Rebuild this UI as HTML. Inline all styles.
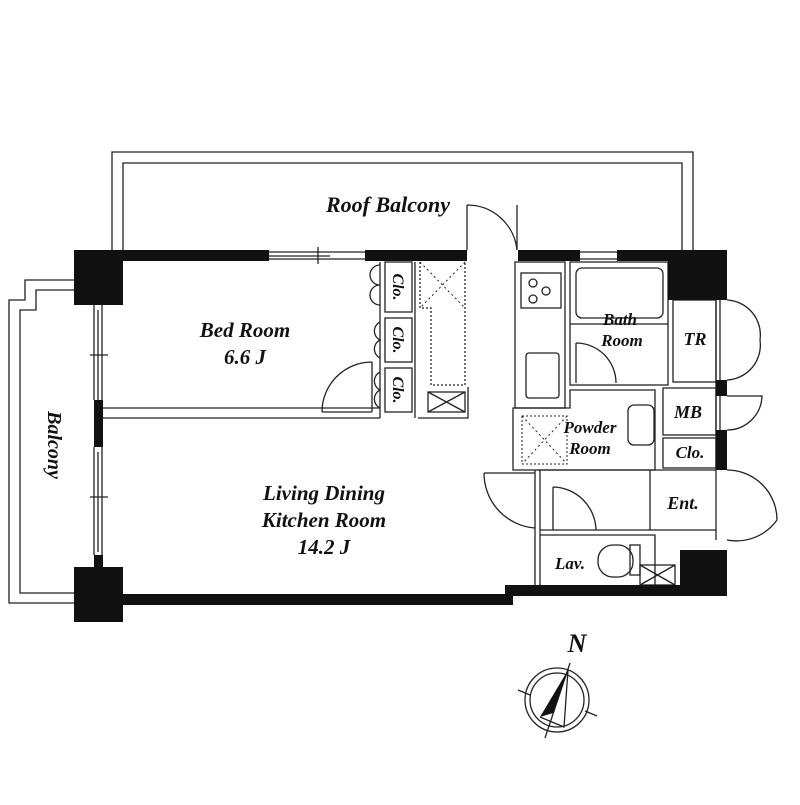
<!DOCTYPE html>
<html><head><meta charset="utf-8"><style>
html,body{margin:0;padding:0;background:#fff;}
svg text{font-family:"Liberation Serif",serif;font-style:italic;font-weight:bold;fill:#111;}
</style></head><body>
<svg width="800" height="800" viewBox="0 0 800 800" xmlns="http://www.w3.org/2000/svg">
<g fill="none" stroke="#222" stroke-width="1.3">
<path d="M112 250 V152 H693 V250"/>
<path d="M123 250 V163 H682 V250"/>
<path d="M74 280 H25 V300 H9 V603 H74"/>
<path d="M74 290 H36 V310 H20 V593 H74"/>
<path d="M94 305 V400 M102 305 V400 M94 447 V555 M102 447 V555 M98 310 V400 M98 452 V552"/>
<path d="M90 355 H108 M90 497 H108"/>
<path d="M269 252 H365 M269 259 H365 M269 256 H330 M318 247 V264"/>
<path d="M580 252 H617 M580 259 H617"/>
<path d="M467 250 V205 M467 205 A50 50 0 0 1 517 250 M517 205 V250"/>
<path d="M103 408 H380 M103 418 H380"/>
<path d="M322 412 A50 50 0 0 1 372 362 M372 362 V412 M322 412 H372"/>
<rect x="385" y="262" width="27" height="50"/>
<rect x="385" y="318" width="27" height="44"/>
<rect x="385" y="368" width="27" height="44"/>
<path d="M380 262 V418 M415 262 V418"/>
<path d="M380 265 a10 10 0 0 0 0 20 a10 10 0 0 0 0 20 M380 322 a10 10 0 0 0 0 18 a10 10 0 0 0 0 18 M380 372 a10 10 0 0 0 0 18 a10 10 0 0 0 0 18"/>
<path d="M420 262 V308 H431 V385 H465 V262" stroke-dasharray="2 2"/>
<path d="M420 262 L465 308 M465 262 L420 308" stroke-dasharray="2 3" stroke-width="1"/>
<rect x="428" y="392" width="37" height="20"/><path d="M428 392 L465 412 M465 392 L428 412"/>
<path d="M418 418 H468 V387"/>
<rect x="515" y="262" width="50" height="146"/>
<rect x="521" y="273" width="40" height="35"/>
<circle cx="533" cy="283" r="4"/><circle cx="533" cy="299" r="4"/><circle cx="546" cy="291" r="4"/>
<rect x="526" y="353" width="33" height="45" rx="3"/>
<rect x="570" y="262" width="98" height="123"/>
<rect x="576" y="268" width="87" height="50" rx="6"/>
<path d="M570 324 H668"/>
<path d="M576 343 A40 40 0 0 1 616 383 M576 343 V383"/>
<rect x="673" y="300" width="43" height="82"/>
<path d="M513 408 H570 V390 H655 V470 H513 Z"/>
<rect x="522" y="416" width="45" height="48" stroke-dasharray="2 2" stroke-width="1"/>
<path d="M522 416 L567 464 M567 416 L522 464" stroke-dasharray="2 3" stroke-width="1"/>
<rect x="628" y="405" width="26" height="40" rx="6"/>
<rect x="663" y="388" width="53" height="47"/>
<rect x="663" y="438" width="53" height="30"/>
<path d="M716 300 V470 M720 300 V380 M720 396 V430 M716 470 V540"/>
<path d="M538 470 H716 M540 470 V530 M650 470 V530 M540 530 H716 M535 470 V590 M540 530 V590 H655 V535 H540"/>
<path d="M484 473 A55 55 0 0 0 535 528 M484 473 H535"/>
<path d="M553 487 A44 44 0 0 1 596 530 M553 487 V530"/>
<rect x="598" y="545" width="35" height="32" rx="15"/>
<rect x="630" y="545" width="10" height="30"/>
<rect x="640" y="565" width="35" height="20"/><path d="M640 565 L675 585 M675 565 L640 585"/>
<path d="M727 300 A35 35 0 0 1 760 340 M727 380 A35 35 0 0 0 760 340"/>
<path d="M727 396 H762 A35 35 0 0 1 727 430"/>
<path d="M727 470 A50 50 0 0 1 777 520 A50 50 0 0 1 727 540"/>
<circle cx="557" cy="700" r="32"/><circle cx="557" cy="700" r="27"/>
<path d="M570 663 L545 738 M518 690 L530 695 M585 711 L597 716 M568 670 L564 727 L540 717"/>
</g>
<g fill="#111">
<rect x="74" y="250" width="49" height="55"/>
<rect x="74" y="567" width="49" height="55"/>
<rect x="123" y="250" width="146" height="11"/>
<rect x="365" y="250" width="102" height="11"/>
<rect x="518" y="250" width="62" height="11"/>
<rect x="617" y="250" width="110" height="11"/>
<rect x="668" y="250" width="59" height="50"/>
<rect x="716" y="380" width="11" height="16"/>
<rect x="716" y="430" width="11" height="40"/>
<rect x="680" y="550" width="47" height="45"/>
<rect x="94" y="400" width="9" height="47"/>
<rect x="94" y="555" width="9" height="12"/>
<rect x="123" y="594" width="390" height="11"/>
<rect x="505" y="585" width="222" height="11"/>
<path d="M540 717 L568 670 L553 713 Z"/>
</g>
<text x="388" y="212" font-size="22" text-anchor="middle">Roof Balcony</text>
<text x="245" y="337" font-size="21" text-anchor="middle">Bed Room</text>
<text x="245" y="364" font-size="21" text-anchor="middle">6.6 J</text>
<text x="324" y="500" font-size="21" text-anchor="middle">Living Dining</text>
<text x="324" y="527" font-size="21" text-anchor="middle">Kitchen Room</text>
<text x="324" y="554" font-size="21" text-anchor="middle">14.2 J</text>
<text x="0" y="0" font-size="20" text-anchor="middle" transform="translate(48,445) rotate(90)">Balcony</text>
<text x="0" y="0" font-size="16" text-anchor="middle" transform="translate(393,287) rotate(90)">Clo.</text>
<text x="0" y="0" font-size="16" text-anchor="middle" transform="translate(393,340) rotate(90)">Clo.</text>
<text x="0" y="0" font-size="16" text-anchor="middle" transform="translate(393,390) rotate(90)">Clo.</text>
<text x="620" y="325" font-size="17" text-anchor="middle">Bath</text>
<text x="622" y="346" font-size="17" text-anchor="middle">Room</text>
<text x="695" y="345" font-size="18" text-anchor="middle">TR</text>
<text x="688" y="418" font-size="18" text-anchor="middle">MB</text>
<text x="690" y="458" font-size="17" text-anchor="middle">Clo.</text>
<text x="590" y="433" font-size="17" text-anchor="middle">Powder</text>
<text x="590" y="454" font-size="17" text-anchor="middle">Room</text>
<text x="683" y="509" font-size="18" text-anchor="middle">Ent.</text>
<text x="570" y="569" font-size="17" text-anchor="middle">Lav.</text>
<text x="577" y="652" font-size="26" text-anchor="middle">N</text>
</svg>
</body></html>
